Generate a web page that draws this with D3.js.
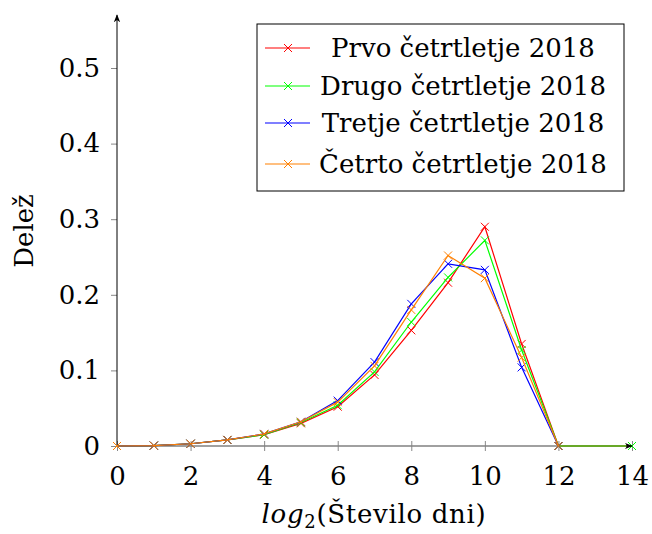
<!DOCTYPE html>
<html><head><meta charset="utf-8">
<script src="https://cdn.jsdelivr.net/npm/d3@7"></script>
<style>body{margin:0;background:#fff}svg{display:block}text{font-family:"DejaVu Serif",serif;fill:#000}</style>
</head><body><svg id="c" width="652" height="534"></svg>
<script>
const xValues=[0,1,2,3,4,5,6,7,8,9,10,11,12,14];
const prvo=[0,0.0005,0.003,0.008,0.015,0.030,0.052,0.094,0.153,0.216,0.290,0.135,0,0];
const drugo=[0,0.0005,0.003,0.008,0.015,0.031,0.054,0.098,0.164,0.223,0.272,0.127,0,0];
const tretje=[0,0.0005,0.003,0.008,0.016,0.032,0.060,0.111,0.188,0.241,0.233,0.104,0];
const cetrto=[0,0.0005,0.003,0.008,0.016,0.032,0.058,0.106,0.180,0.252,0.222,0.117,0];
const seriesNames=["Prvo četrtletje 2018","Drugo četrtletje 2018","Tretje četrtletje 2018","Četrto četrtletje 2018"];
const seriesColors=["#ff0000","#00ff00","#0000ff","#ff8000"];
const xTicks=[0,2,4,6,8,10,12,14];
const yTicks=[0,0.1,0.2,0.3,0.4,0.5];
const xLabelItalic="log", xLabelSub="2", xLabelRest="(Število dni)";
const yLabel="Delež";

const svg=d3.select("#c");
const x=d3.scaleLinear().domain([0,14]).range([117,632]);
const y=d3.scaleLinear().domain([0,0.5]).range([446,68]);
const FS=26;

svg.append("defs").append("marker").attr("id","arr").attr("viewBox","0 0 10 10")
  .attr("refX",9).attr("refY",5).attr("markerWidth",8).attr("markerHeight",8)
  .attr("markerUnits","userSpaceOnUse").attr("orient","auto")
  .append("path").attr("d","M0,1 L10,5 L0,9 L3,5 Z").attr("fill","#000");

// x axis
const gx=svg.append("g").attr("transform",`translate(0,${y(0)})`)
  .call(d3.axisBottom(x).tickValues(xTicks).tickFormat(d3.format("d")).tickSizeInner(5).tickSizeOuter(0).tickPadding(16));
gx.select(".domain").remove();
gx.selectAll(".tick line").attr("y1",-5).attr("stroke","#888").attr("stroke-width",1);
gx.selectAll(".tick text").attr("font-size",FS).attr("font-family","DejaVu Serif");
svg.append("line").attr("x1",x(0)).attr("x2",x(14)).attr("y1",y(0)).attr("y2",y(0))
  .attr("stroke","#808080").attr("stroke-width",1.6);

// y axis
const gy=svg.append("g").attr("transform",`translate(${x(0)},0)`)
  .call(d3.axisLeft(y).tickValues(yTicks).tickFormat(d=>d===0?"0":d3.format(".1f")(d)).tickSizeInner(6).tickSizeOuter(0).tickPadding(11));
gy.select(".domain").remove();
gy.selectAll(".tick line").attr("stroke","#888").attr("stroke-width",1);
gy.selectAll(".tick text").attr("font-size",FS).attr("font-family","DejaVu Serif");
svg.append("line").attr("x1",x(0)).attr("x2",x(0)).attr("y1",y(0)).attr("y2",y(0.57))
  .attr("stroke","#000").attr("stroke-width",1).attr("marker-end","url(#arr)");

// series
const allSeries=[prvo,drugo,tretje,cetrto];
const line=d3.line().x(d=>x(d[0])).y(d=>y(d[1]));
const cross=(g,cx,cy,c)=>{const s=4;
  g.append("path").attr("d",`M${cx-s},${cy-s}L${cx+s},${cy+s}M${cx-s},${cy+s}L${cx+s},${cy-s}`)
   .attr("stroke",c).attr("stroke-width",1).attr("fill","none");};
allSeries.forEach((vals,i)=>{
  const pts=vals.map((v,j)=>[xValues[j],v]);
  const g=svg.append("g");
  g.append("path").attr("d",line(pts)).attr("fill","none").attr("stroke",seriesColors[i]).attr("stroke-width",1.2);
  pts.forEach(p=>cross(g,x(p[0]),y(p[1]),seriesColors[i]));
});
// arrow at x-axis end
svg.append("line").attr("x1",x(14)-6).attr("x2",x(14)).attr("y1",y(0)).attr("y2",y(0))
  .attr("stroke","#000").attr("stroke-width",1).attr("marker-end","url(#arr)");

// legend
const lg=svg.append("g");
lg.append("rect").attr("x",257).attr("y",24).attr("width",367).attr("height",167)
  .attr("fill","#fff").attr("stroke","#000").attr("stroke-width",1);
const rowsY=[48,86,123,164];
seriesNames.forEach((n,i)=>{
  lg.append("line").attr("x1",265).attr("x2",310).attr("y1",rowsY[i]).attr("y2",rowsY[i])
    .attr("stroke",seriesColors[i]).attr("stroke-width",1.2);
  cross(lg,288,rowsY[i],seriesColors[i]);
  lg.append("text").attr("x",463).attr("y",rowsY[i]+9).attr("text-anchor","middle")
    .attr("font-size",FS).text(n);
});

// axis labels
const xl=svg.append("text").attr("x",374).attr("y",523).attr("text-anchor","middle").attr("font-size",FS).attr("letter-spacing","0.7px");
xl.append("tspan").attr("font-style","italic").text(xLabelItalic);
xl.append("tspan").attr("font-size",18).attr("dy",5).text(xLabelSub);
xl.append("tspan").attr("dy",-5).text(xLabelRest);
svg.append("text").attr("transform","translate(33,231) rotate(-90)").attr("text-anchor","middle")
  .attr("font-size",FS).text(yLabel);
</script></body></html>
